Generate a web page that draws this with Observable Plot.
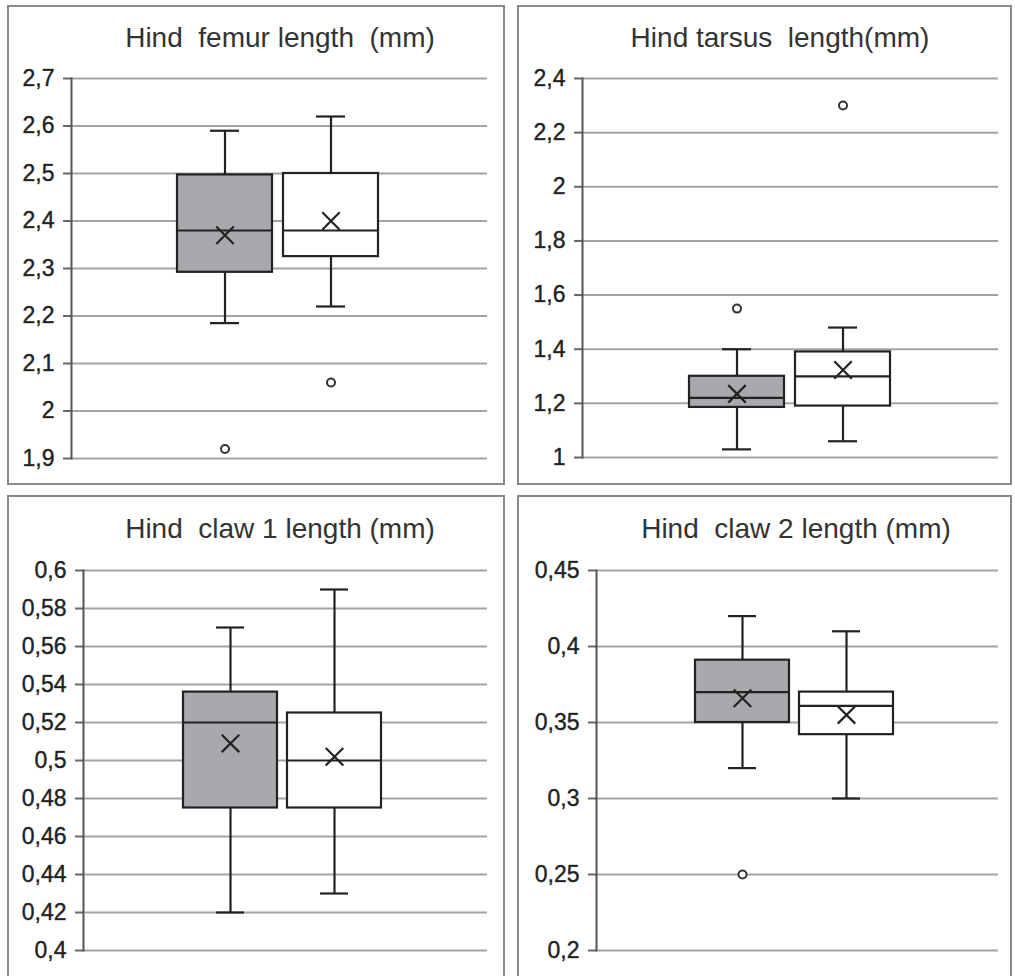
<!DOCTYPE html>
<html>
<head>
<meta charset="utf-8">
<script src="https://cdn.jsdelivr.net/npm/d3@7"></script>
<script src="https://cdn.jsdelivr.net/npm/@observablehq/plot@0.6"></script>
<style>
  html, body { margin: 0; padding: 0; background: #fff; overflow: hidden; }
  #page { position: relative; width: 1015px; height: 976px; overflow: hidden; font-family: "Liberation Sans", Arial, sans-serif; }
  .border { position: absolute; box-sizing: border-box; border: 2px solid #8a8a8a; }
  .title { position: absolute; white-space: pre; font-size: 28px; line-height: 28px; color: #333; transform: translateX(-50%); }
  .plot { position: absolute; }
</style>
</head>
<body>
<div id="page"></div>
<script>
// ---- data ----
const groups = ["Group 1", "Group 2"];
const groupFill = ["#a9a8ac", "#ffffff"];
const titles = ["Hind  femur length  (mm)", "Hind tarsus  length(mm)", "Hind  claw 1 length (mm)", "Hind  claw 2 length (mm)"];
const yTicks = [
  [1.9, 2.0, 2.1, 2.2, 2.3, 2.4, 2.5, 2.6, 2.7],
  [1.0, 1.2, 1.4, 1.6, 1.8, 2.0, 2.2, 2.4],
  [0.40, 0.42, 0.44, 0.46, 0.48, 0.50, 0.52, 0.54, 0.56, 0.58, 0.60],
  [0.20, 0.25, 0.30, 0.35, 0.40, 0.45]
];
const whiskerLow  = [[2.185, 2.22], [1.03, 1.06], [0.42, 0.43], [0.32, 0.30]];
const quartile1   = [[2.292, 2.325], [1.185, 1.19], [0.475, 0.475], [0.35, 0.342]];
const medians     = [[2.38, 2.38], [1.22, 1.30], [0.52, 0.50], [0.37, 0.361]];
const quartile3   = [[2.497, 2.50], [1.30, 1.39], [0.536, 0.525], [0.391, 0.37]];
const whiskerHigh = [[2.59, 2.62], [1.40, 1.48], [0.57, 0.59], [0.42, 0.41]];
const means       = [[2.37, 2.40], [1.235, 1.323], [0.509, 0.502], [0.366, 0.355]];
// outliers: [group index, value]
const outliers = [
  [[0, 1.92], [1, 2.06]],
  [[0, 1.55], [1, 2.30]],
  [],
  [[0, 0.25]]
];

// ---- layout ----
const panels = [
  {left: 7,   top: 5,   w: 498, h: 480, ml: 64, mr: 18, mt: 73, mb: 27, range: [169, 372], tx: 280, ty: 24},
  {left: 517, top: 5,   w: 495, h: 480, ml: 65, mr: 14, mt: 73, mb: 28, range: [171, 374], tx: 780, ty: 24},
  {left: 7,   top: 495, w: 498, h: 481, ml: 76, mr: 18, mt: 75, mb: 26, range: [176, 374], tx: 280, ty: 515},
  {left: 517, top: 495, w: 495, h: 481, ml: 79, mr: 14, mt: 75, mb: 26, range: [177, 376], tx: 796, ty: 515}
];

const page = document.getElementById("page");
const fmt = d => String(+d.toFixed(2)).replace(".", ",");

panels.forEach((p, k) => {
  const b = document.createElement("div");
  b.className = "border";
  Object.assign(b.style, {left: p.left + "px", top: p.top + "px", width: (p.w) + "px", height: (k < 2 ? p.h : 500) + "px"});
  page.appendChild(b);

  const data = groups.map((g, i) => ({
    group: g, fill: groupFill[i],
    low: whiskerLow[k][i], q1: quartile1[k][i], median: medians[k][i],
    q3: quartile3[k][i], high: whiskerHigh[k][i], mean: means[k][i]
  }));
  const outs = outliers[k].map(([i, v]) => ({group: groups[i], value: v}));
  const ticks = yTicks[k];

  const svg = Plot.plot({
    width: p.w, height: p.h,
    marginLeft: p.ml, marginRight: p.mr, marginTop: p.mt, marginBottom: p.mb,
    style: {fontFamily: "'Liberation Sans', Arial, sans-serif", color: "#222", background: "transparent", overflow: "visible"},
    x: {type: "band", domain: groups, range: p.range, paddingInner: 0.1, paddingOuter: 0, axis: null},
    y: {domain: [ticks[0], ticks[ticks.length - 1]]},
    color: {type: "identity"},
    marks: [
      Plot.ruleY(ticks, {stroke: "#a4a4a4", strokeWidth: 2}),
      Plot.axisY(ticks, {tickFormat: fmt, tickSize: 8, tickPadding: 9, fontSize: 23, stroke: "#666", strokeWidth: 2, textStroke: "#222", textStrokeWidth: 0.5, textStrokeOpacity: 0.8}),
      Plot.frame({anchor: "left", stroke: "#555", strokeWidth: 2}),
      Plot.ruleX(data, {x: "group", y1: "low", y2: "q1", stroke: "#222", strokeWidth: 2.2}),
      Plot.ruleX(data, {x: "group", y1: "q3", y2: "high", stroke: "#222", strokeWidth: 2.2}),
      Plot.tickY(data, {x: "group", y: "low", insetLeft: 33, insetRight: 33, stroke: "#222", strokeWidth: 2.2}),
      Plot.tickY(data, {x: "group", y: "high", insetLeft: 33, insetRight: 33, stroke: "#222", strokeWidth: 2.2}),
      Plot.barY(data, {x: "group", y1: "q1", y2: "q3", fill: "fill", stroke: "#222", strokeWidth: 2.2}),
      Plot.tickY(data, {x: "group", y: "median", stroke: "#222", strokeWidth: 2.2}),
      Plot.dot(data, {x: "group", y: "mean", symbol: "times", r: 8, stroke: "#222", strokeWidth: 2.2}),
      Plot.dot(outs, {x: "group", y: "value", r: 4, fill: "white", stroke: "#333", strokeWidth: 2})
    ]
  });
  svg.classList.add("plot");
  Object.assign(svg.style, {left: p.left + "px", top: p.top + "px"});
  page.appendChild(svg);

  const t = document.createElement("div");
  t.className = "title";
  t.textContent = titles[k];
  Object.assign(t.style, {left: p.tx + "px", top: p.ty + "px"});
  page.appendChild(t);
});
</script>
</body>
</html>
